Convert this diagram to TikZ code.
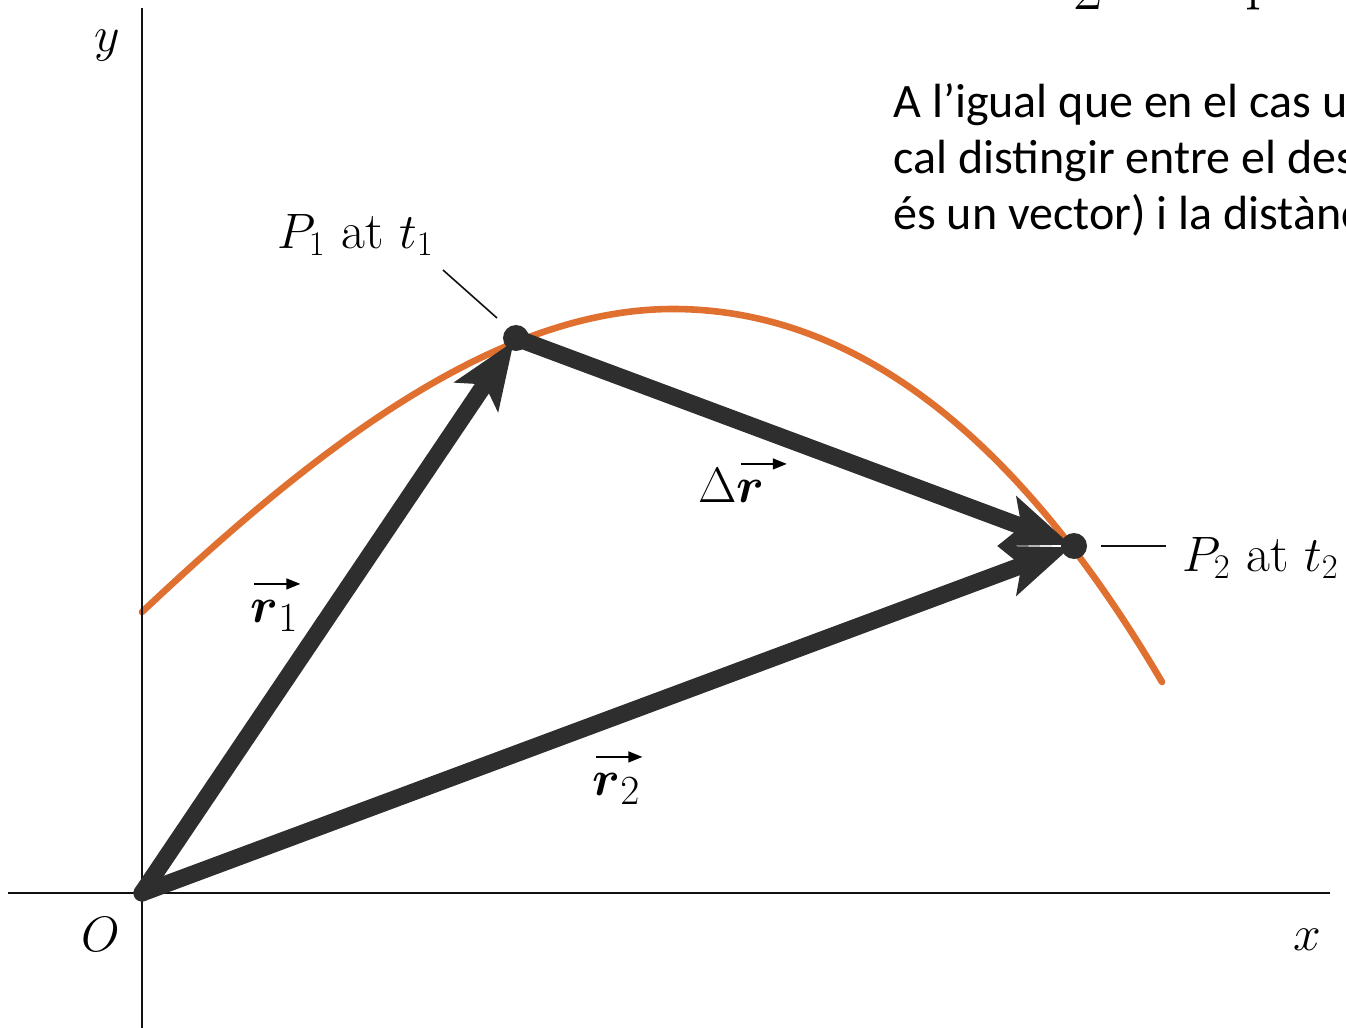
\documentclass[tikz,border=0pt]{standalone}
\usepackage{amsmath}
\usepackage{fontspec}
\newfontfamily\notefont{Carlito}
\definecolor{ink}{HTML}{111111}
\definecolor{vecc}{HTML}{2E2E2E}
\definecolor{pathc}{HTML}{E0702F}
\usetikzlibrary{arrows.meta,calc}
\newcommand{\arrover}[1]{\overset{\tikz[baseline]{\path (0pt,0pt) rectangle (13pt,6pt);
  \draw[overlay,line width=0.7pt,-{Triangle[length=7pt,width=5.5pt]}] (-5pt,3pt)--(18pt,3pt);}}{#1}}

\begin{document}
\begin{tikzpicture}[x=0.5pt,y=-0.5pt,every node/.style={font=\fontsize{26}{30}\selectfont,inner sep=0pt}]
\tikzstyle{vec}=[line width=8.5pt,draw=vecc,line cap=round,-{Stealth[length=34pt,width=27pt,inset=8pt,line width=0pt]},shorten >=2pt]
\tikzstyle{dot}=[circle,fill=vecc,inner sep=0pt,minimum size=13pt]
\tikzstyle{axis}=[line width=1.4pt,ink]
\tikzstyle{lead}=[line width=0.8pt,ink]
\tikzstyle{veclab}=[anchor=base west,font=\fontsize{30}{34}\selectfont]
\useasboundingbox (0,0) rectangle (1346,1028);
\clip (0,0) rectangle (1346,1028);
% points of the path
\coordinate (O) at (142,893);
\coordinate (P1) at (516,338);
\coordinate (P2) at (1074,546);
\coordinate (top) at (673,309);
\coordinate (start) at (142,612);
\coordinate (stop) at (1162,682);
% trajectory
\draw[pathc,line width=3.3pt,line cap=round] (start) .. controls (312,452) and (493,309) .. (top)
  .. controls (893,309) and (1052,495) .. (stop);
% axes
\coordinate (xa) at (8,893);
\coordinate (xb) at (1330,893);
\coordinate (ya) at (142,8);
\coordinate (yb) at (142,1030);
\draw[axis] (xa)--(xb);
\draw[axis] (ya)--(yb);
\node[anchor=base] (ylab) at (107,52) {$y$};
\node[anchor=base] (xlab) at (1307,950) {$x$};
\node[anchor=base] (olab) at (101,951) {$O$};
% vectors
\draw[vec] (O)--(P1);
\draw[vec] (O)--(P2);
\draw[vec] (P1)--(P2);
\node[dot] (p1dot) at (P1) {};
\node[dot] (p2dot) at (P2) {};
\node[veclab] (r1lab) at (250,622) {$\arrover{\boldsymbol r}_1$};
\node[veclab] (r2lab) at (592,795) {$\arrover{\boldsymbol r}_2$};
\node[veclab] (drlab) at (698,502) {$\Delta\arrover{\boldsymbol r}$};
% point labels
\node[anchor=base west] (p1tag) at (277,248) {$P_1$ at $t_1$};
\node[anchor=base west] (p2tag) at (1182,571) {$P_2$ at $t_2$};
\coordinate (l1a) at (443,270);
\coordinate (l1b) at (497,318);
\coordinate (l2a) at (1101,546);
\coordinate (l2b) at (1166,546);
\draw[lead] (l1a)--(l1b);
\draw[lead] (l2a)--(l2b);
% clipped text on the right
\node[anchor=base] (frag2) at (1088,10) {\fontsize{32}{32}\selectfont 2};
\node[anchor=base] (fragp) at (1262,-3) {\fontsize{32}{32}\selectfont p};
\tikzstyle{note}=[anchor=base west,font=\notefont\fontsize{24}{29}\selectfont]
\node[note] (note1) at (893,117) {A l’igual que en el cas unidimensional,};
\node[note] (note2) at (893,173) {cal distingir entre el desplaçament};
\node[note] (note3) at (893,229) {és un vector) i la distància};
\end{tikzpicture}
\end{document}
